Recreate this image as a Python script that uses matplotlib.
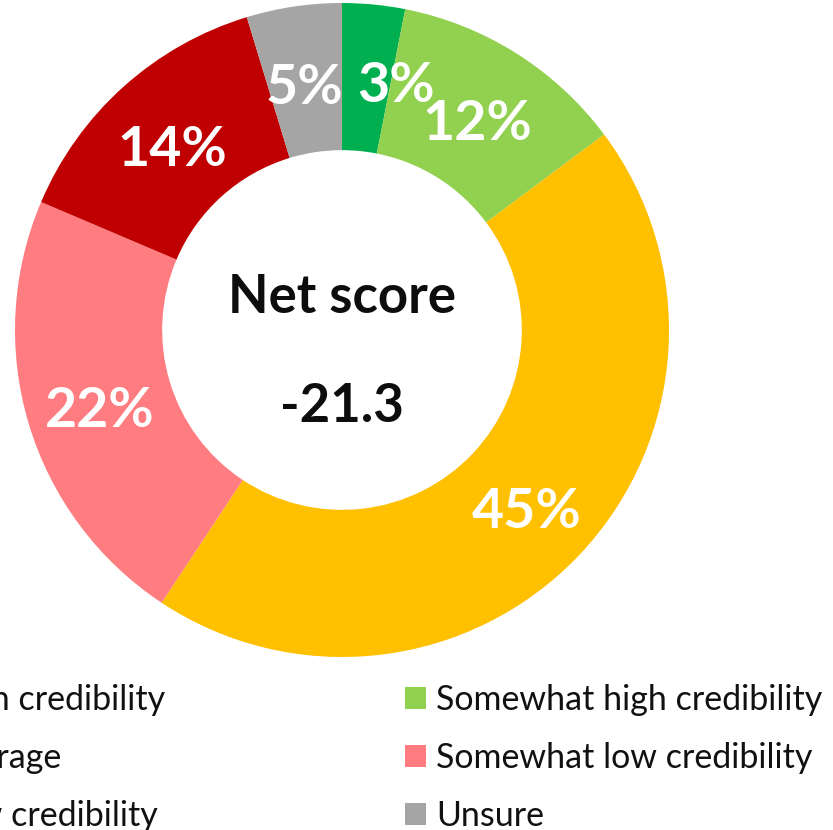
import matplotlib.pyplot as plt
import numpy as np

plt.rcParams['font.family'] = ['Lato', 'DejaVu Sans']

categories = ['High credibility', 'Somewhat high credibility', 'Average',
              'Somewhat low credibility', 'Low credibility', 'Unsure']
shares = [3.1, 11.7, 44.5, 22.1, 13.9, 4.7]
labels = ['3%', '12%', '45%', '22%', '14%', '5%']
colors = ['#00B050', '#92D050', '#FFC000', '#FF7C80', '#C00000', '#A5A5A5']
net_score = -21.3

W, H = 833, 830
R_PX = 327
CX, CY = 342, 330  # donut centre in pixels from top-left
HOLE = 0.55

fig = plt.figure(figsize=(W / 100, H / 100), dpi=100)
ax = fig.add_axes([(CX - R_PX) / W, (H - CY - R_PX) / H, 2 * R_PX / W, 2 * R_PX / H])

wedges, _ = ax.pie(shares, colors=colors, startangle=90, counterclock=False,
                   radius=1, wedgeprops=dict(width=1 - HOLE, edgecolor='none'))
ax.set_xlim(-1, 1)
ax.set_ylim(-1, 1)
ax.set_aspect('equal')
ax.axis('off')

# percentage labels in the middle of the ring
nudge = {0: (0.09, 0.0)}  # small slice label pushed aside, like Excel does
r_mid = (1 + HOLE) / 2
for i, w in enumerate(wedges):
    ang = np.deg2rad((w.theta1 + w.theta2) / 2)
    dx, dy = nudge.get(i, (0, 0))
    ax.text(r_mid * np.cos(ang) + dx, r_mid * np.sin(ang) + dy - 0.025, labels[i],
            ha='center', va='center', color='white', fontsize=40, fontweight='bold')

ax.text(0, 0.10, 'Net score', ha='center', va='center', fontsize=38,
        fontweight='bold', color='#0D0D0D')
ax.text(0, -0.235, f'{net_score:.1f}', ha='center', va='center', fontsize=38,
        fontweight='bold', color='#0D0D0D')

# legend, two columns (left column runs off the canvas)
leg_kw = dict(frameon=False, fontsize=24.5, handlelength=0.62, handleheight=0.62,
              handletextpad=0.3, labelspacing=0.76, borderpad=0, borderaxespad=0,
              labelcolor='#111111')
left_idx = [0, 2, 4]
right_idx = [1, 3, 5]
leg1 = fig.legend([wedges[i] for i in left_idx], [categories[i] for i in left_idx],
                  loc='upper right', bbox_to_anchor=(165 / W, 1 - 684 / H), **leg_kw)
leg2 = fig.legend([wedges[i] for i in right_idx], [categories[i] for i in right_idx],
                  loc='upper left', bbox_to_anchor=(405 / W, 1 - 684 / H), **leg_kw)

fig.savefig('out.png', dpi=100)
